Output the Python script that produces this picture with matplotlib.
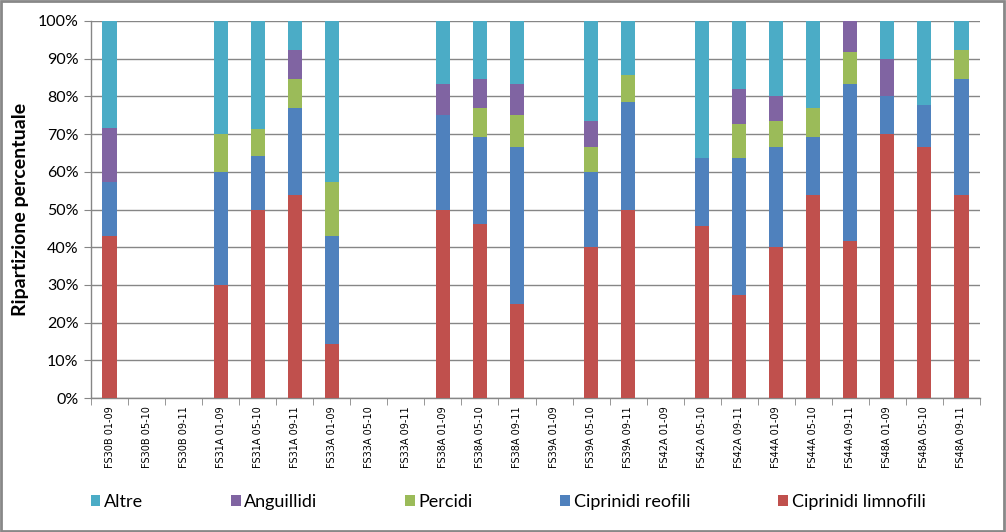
import matplotlib
matplotlib.use("Agg")
import matplotlib.pyplot as plt
import numpy as np
from matplotlib.patches import Rectangle

categories = ["FS30B 01-09", "FS30B 05-10", "FS30B 09-11",
              "FS31A 01-09", "FS31A 05-10", "FS31A 09-11",
              "FS33A 01-09", "FS33A 05-10", "FS33A 09-11",
              "FS38A 01-09", "FS38A 05-10", "FS38A 09-11",
              "FS39A 01-09", "FS39A 05-10", "FS39A 09-11",
              "FS42A 01-09", "FS42A 05-10", "FS42A 09-11",
              "FS44A 01-09", "FS44A 05-10", "FS44A 09-11",
              "FS48A 01-09", "FS48A 05-10", "FS48A 09-11"]

limnofili = [42.9, 0, 0, 30.0, 50.0, 53.8, 14.3, 0, 0, 50.0, 46.2, 25.0,
             0, 40.0, 50.0, 0, 45.5, 27.3, 40.0, 53.8, 41.7, 70.0, 66.7, 53.8]
reofili = [14.3, 0, 0, 30.0, 14.3, 23.1, 28.6, 0, 0, 25.0, 23.1, 41.7,
           0, 20.0, 28.6, 0, 18.2, 36.4, 26.7, 15.4, 41.7, 10.0, 11.1, 30.8]
percidi = [0, 0, 0, 10.0, 7.1, 7.7, 14.3, 0, 0, 0, 7.7, 8.3,
           0, 6.7, 7.1, 0, 0, 9.1, 6.7, 7.7, 8.3, 0, 0, 7.7]
anguillidi = [14.3, 0, 0, 0, 0, 7.7, 0, 0, 0, 8.3, 7.7, 8.3,
              0, 6.7, 0, 0, 0, 9.1, 6.7, 0, 8.3, 10.0, 0, 0]
altre = [28.6, 0, 0, 30.0, 28.6, 7.7, 42.9, 0, 0, 16.7, 15.4, 16.7,
         0, 26.7, 14.3, 0, 36.4, 18.2, 20.0, 23.1, 0, 10.0, 22.2, 7.7]

series = [("Ciprinidi limnofili", limnofili, "#C0504D"),
          ("Ciprinidi reofili", reofili, "#4F81BD"),
          ("Percidi", percidi, "#9BBB59"),
          ("Anguillidi", anguillidi, "#8064A2"),
          ("Altre", altre, "#4BACC6")]

fig = plt.figure(figsize=(10.06, 5.32), dpi=100)
ax = fig.add_axes([91/1006, 1-398/532, (980-91)/1006, (398-21)/532])

x = np.arange(len(categories))
bottom = np.zeros(len(categories))
handles = {}
for name, vals, col in series:
    v = np.array(vals, dtype=float)
    b = ax.bar(x, v, bottom=bottom, width=0.38, color=col, zorder=3, label=name)
    handles[name] = b
    bottom += v

ax.set_xlim(-0.5, len(categories) - 0.5)
ax.set_ylim(0, 100)
ax.set_yticks(np.arange(0, 101, 10))
ax.set_yticklabels([f"{v}%" for v in range(0, 101, 10)], fontsize=11.5, family="Lato")
ax.yaxis.grid(True, color="#868686", lw=1, zorder=0)
ax.set_axisbelow(True)

ax.set_xticks(x)
ax.set_xticklabels(categories, rotation=90, fontsize=7, family="DejaVu Sans")
ax.set_xticks(np.arange(-0.5, len(categories), 1), minor=True)
ax.tick_params(axis="x", which="major", length=0, pad=6)
ax.tick_params(axis="x", which="minor", length=5, color="#868686")
ax.tick_params(axis="y", length=5, color="#868686", pad=4)

for s in ["top", "right"]:
    ax.spines[s].set_visible(False)
for s in ["left", "bottom"]:
    ax.spines[s].set_color("#868686")
    ax.spines[s].set_linewidth(1)

ax.set_ylabel("Ripartizione percentuale", fontsize=14, fontweight="bold", family="Lato", labelpad=6)

order = ["Altre", "Anguillidi", "Percidi", "Ciprinidi reofili", "Ciprinidi limnofili"]
fig.legend([handles[n] for n in order], order, loc="center", bbox_to_anchor=(0.505, 1-502/532),
           ncol=5, frameon=False, prop={"family": "Lato", "size": 13},
           handlelength=0.55, handleheight=0.55, handletextpad=0.2, columnspacing=4.85)

fig.patches.append(Rectangle((0.001, 0.002), 0.997, 0.996, transform=fig.transFigure,
                             fill=False, edgecolor="#888888", lw=2))

fig.savefig("out.png", dpi=100)
